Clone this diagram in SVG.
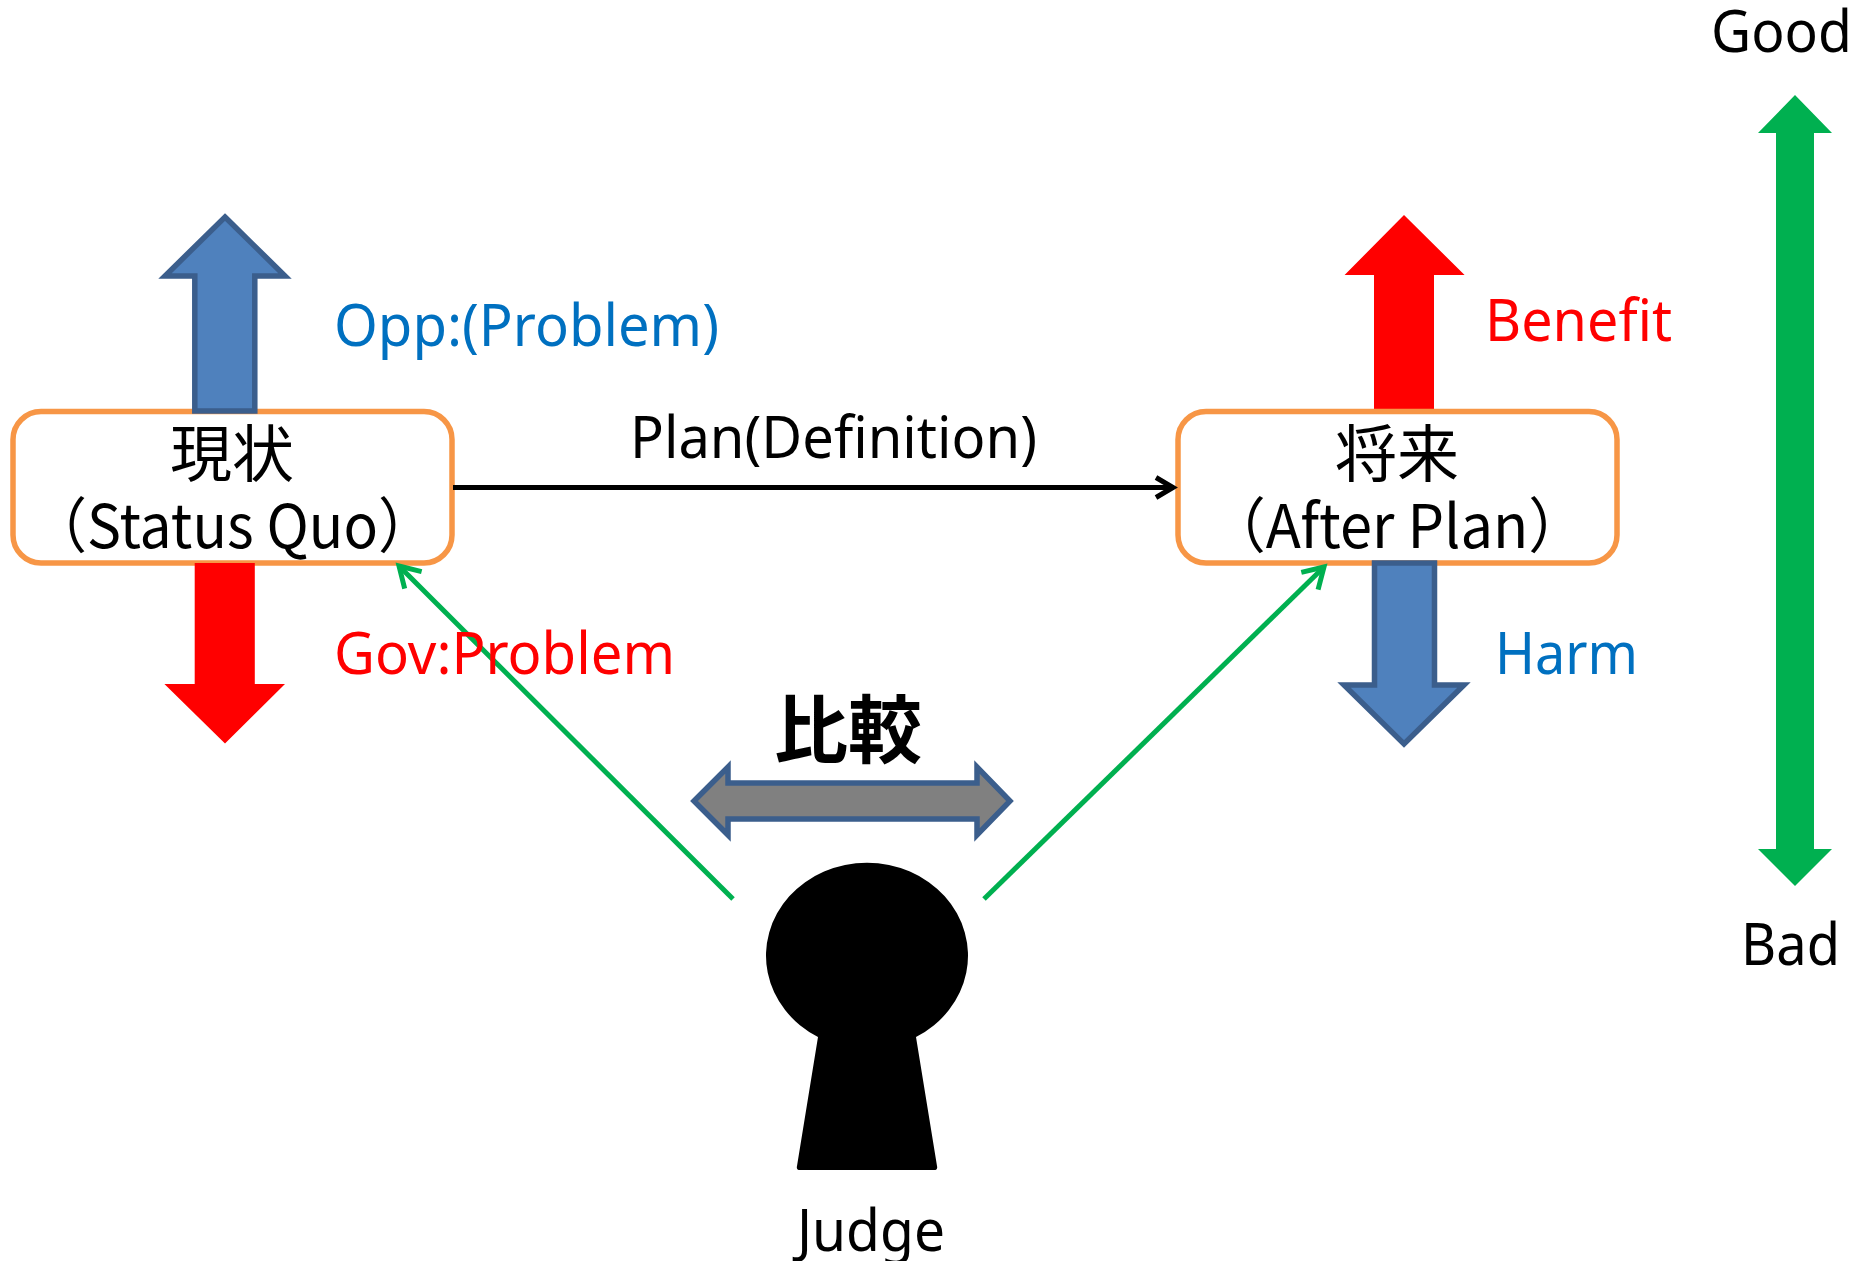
<svg xmlns="http://www.w3.org/2000/svg" width="1868" height="1261" viewBox="0 0 1868 1261">
<style>
text{font-family:"Noto Sans","Noto Sans CJK JP",sans-serif;font-size:58px;fill:#000}
.cjk{font-family:"Noto Sans CJK JP","Noto Sans",sans-serif;font-size:62px}
.sub{font-size:60px}
.blue{fill:#0070C0}.red{fill:#FF0000}
.box{fill:#fff;stroke:#F79646;stroke-width:5.5}
.ba{fill:#4F81BD;stroke:#3B5E8C;stroke-width:5.5;stroke-miterlimit:10}
.ra{fill:#FF0000}
.ga{fill:#00B050}
.gl{stroke:#00B050;stroke-width:5;fill:none}
.bl{stroke:#000;stroke-width:5;fill:none}
</style>
<defs>
<marker id="ag" markerUnits="userSpaceOnUse" markerWidth="30" markerHeight="30" refX="24" refY="15" orient="auto" overflow="visible"><path d="M4 3L24 15L4 27" fill="none" stroke="#00B050" stroke-width="5"/></marker>
<marker id="ak" markerUnits="userSpaceOnUse" markerWidth="30" markerHeight="30" refX="24" refY="15" orient="auto" overflow="visible"><path d="M6 5L23 15L6 25" fill="none" stroke="#000" stroke-width="5"/></marker>
</defs>
<g id="benefit-arrow"><polygon class="ra" points="1404,215 1464.6,275 1434,275 1434,412 1374,412 1374,275 1344.6,275"/></g>
<g id="status-quo">
<rect class="box" x="13" y="411.5" width="439" height="151.5" rx="28"/>
<text class="cjk" x="232" y="477" text-anchor="middle">現状</text>
<text class="cjk sub" x="30" y="548" textLength="405" lengthAdjust="spacingAndGlyphs">（Status Quo）</text>
</g>
<g id="after-plan">
<rect class="box" x="1178" y="411.5" width="439" height="151.5" rx="28"/>
<text class="cjk" x="1397" y="477" text-anchor="middle">将来</text>
<text class="cjk sub" x="1208" y="548" textLength="378" lengthAdjust="spacingAndGlyphs">（After Plan）</text>
</g>
<g id="opp-arrow"><polygon class="ba" points="225,217 285,276 254.8,276 254.8,411 194.8,411 194.8,276 165,276"/></g>
<g id="gov-arrow"><polygon class="ra" points="194.7,563 254.8,563 254.8,684 285,684 225,743.6 164.4,684 194.7,684"/></g>
<g id="harm-arrow"><polygon class="ba" points="1374.5,563 1434.5,563 1434.5,685 1464,685 1404,744 1344,685 1374.5,685"/></g>
<g id="scale-arrow"><polygon class="ga" points="1795,95 1832,133 1814,133 1814,849 1832,849 1795,886 1758,849 1776,849 1776,133 1758,133"/></g>
<g id="compare-arrow"><polygon points="694,801 728,767 728,783 977,783 977,767 1010,801 977,835 977,819 728,819 728,835" fill="#808080" stroke="#3B5E8C" stroke-width="5.5" stroke-miterlimit="10"/></g>
<g id="judge"><path d="M818 1037A101 93 0 1 1 916 1037L937 1166Q938 1170 934 1170L800 1170Q796 1170 797 1166Z" fill="#000"/></g>
<g id="connectors">
<line class="bl" x1="453" y1="487.5" x2="1174" y2="487.5" marker-end="url(#ak)"/>
<line class="gl" x1="733" y1="899" x2="399" y2="566" marker-end="url(#ag)"/>
<line class="gl" x1="984" y1="899" x2="1324" y2="567" marker-end="url(#ag)"/>
</g>
<g id="labels">
<text x="1711" y="52" textLength="141" lengthAdjust="spacingAndGlyphs">Good</text>
<text x="1741" y="965" textLength="99" lengthAdjust="spacingAndGlyphs">Bad</text>
<text class="blue" x="334" y="346" textLength="385" lengthAdjust="spacingAndGlyphs">Opp:(Problem)</text>
<text class="red" x="334" y="674" textLength="341" lengthAdjust="spacingAndGlyphs">Gov:Problem</text>
<text class="red" x="1485" y="341" textLength="187" lengthAdjust="spacingAndGlyphs">Benefit</text>
<text class="blue" x="1495" y="674" textLength="143" lengthAdjust="spacingAndGlyphs">Harm</text>
<text x="630" y="458" textLength="407" lengthAdjust="spacingAndGlyphs">Plan(Definition)</text>
<text class="cjk" x="848" y="757" text-anchor="middle" style="font-size:74px;font-weight:700">比較</text>
<text x="797" y="1251" textLength="148" lengthAdjust="spacingAndGlyphs">Judge</text>
</g>
</svg>
